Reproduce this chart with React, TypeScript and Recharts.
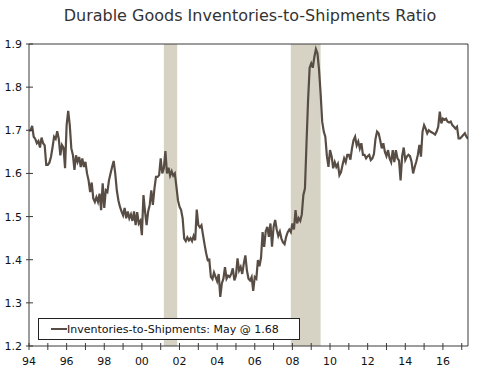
import { LineChart, Line, XAxis, YAxis, ReferenceArea, ReferenceLine, Legend } from 'recharts'

// monthly ratio, Jan 1994 .. May 2017
const ratio1994to1997 = [
  1.70, 1.70, 1.71, 1.685, 1.68, 1.67, 1.675, 1.66, 1.683, 1.67, 1.665, 1.62,
  1.62, 1.625, 1.638, 1.66, 1.685, 1.68, 1.698, 1.68, 1.642, 1.666, 1.66, 1.612,
  1.712, 1.745, 1.712, 1.658, 1.643, 1.608, 1.642, 1.627, 1.638, 1.615, 1.635, 1.615,
  1.627, 1.60, 1.584, 1.557, 1.579, 1.542, 1.534, 1.545, 1.534, 1.553, 1.515, 1.577,
]
const ratio1998to2001 = [
  1.52, 1.561, 1.557, 1.584, 1.60, 1.615, 1.629, 1.60, 1.561, 1.538, 1.523, 1.512,
  1.503, 1.52, 1.496, 1.512, 1.496, 1.505, 1.49, 1.512, 1.48, 1.51, 1.484, 1.49,
  1.457, 1.55, 1.512, 1.48, 1.512, 1.527, 1.561, 1.527, 1.565, 1.592, 1.592, 1.596,
  1.635, 1.60, 1.612, 1.652, 1.60, 1.613, 1.595, 1.605, 1.595, 1.60, 1.57, 1.538,
]
const ratio2002to2005 = [
  1.523, 1.515, 1.496, 1.449, 1.443, 1.452, 1.445, 1.45, 1.443, 1.455, 1.445, 1.516,
  1.48, 1.475, 1.48, 1.457, 1.435, 1.415, 1.399, 1.40, 1.36, 1.355, 1.37, 1.36,
  1.35, 1.367, 1.314, 1.345, 1.356, 1.383, 1.356, 1.363, 1.36, 1.367, 1.38, 1.352,
  1.363, 1.403, 1.375, 1.383, 1.367, 1.391, 1.41, 1.375, 1.356, 1.352, 1.36, 1.328,
]
const ratio2006to2009 = [
  1.36, 1.356, 1.399, 1.385, 1.405, 1.464, 1.43, 1.466, 1.476, 1.453, 1.484, 1.43,
  1.476, 1.492, 1.47, 1.455, 1.465, 1.449, 1.44, 1.436, 1.453, 1.464, 1.47, 1.464,
  1.484, 1.47, 1.515, 1.484, 1.496, 1.49, 1.505, 1.55, 1.565, 1.67, 1.77, 1.845,
  1.855, 1.845, 1.87, 1.888, 1.878, 1.84, 1.785, 1.72, 1.697, 1.685, 1.64, 1.615,
]
const ratio2010to2013 = [
  1.654, 1.64, 1.612, 1.626, 1.615, 1.622, 1.596, 1.603, 1.62, 1.635, 1.626, 1.643,
  1.643, 1.632, 1.658, 1.677, 1.685, 1.665, 1.674, 1.658, 1.67, 1.643, 1.643, 1.635,
  1.64, 1.643, 1.631, 1.635, 1.645, 1.68, 1.697, 1.693, 1.677, 1.658, 1.67, 1.65,
  1.64, 1.654, 1.635, 1.626, 1.654, 1.626, 1.654, 1.635, 1.63, 1.584, 1.64, 1.66,
]
const ratio2014to2017 = [
  1.631, 1.639, 1.643, 1.64, 1.627, 1.60, 1.615, 1.627, 1.643, 1.666, 1.639, 1.697,
  1.712, 1.704, 1.693, 1.70, 1.697, 1.695, 1.693, 1.69, 1.697, 1.708, 1.743, 1.716,
  1.727, 1.724, 1.727, 1.72, 1.718, 1.72, 1.712, 1.708, 1.704, 1.708, 1.681, 1.681,
  1.685, 1.689, 1.693, 1.685, 1.68,
]

const START_YEAR = 1994
const yTicks = [1.2, 1.3, 1.4, 1.5, 1.6, 1.7, 1.8, 1.9]
const yearTicks = [1994, 1995, 1996, 1997, 1998, 1999, 2000, 2001, 2002, 2003, 2004, 2005,
  2006, 2007, 2008, 2009, 2010, 2011, 2012, 2013, 2014, 2015, 2016, 2017]
// recessions: Mar-Nov 2001, Dec 2007-Jun 2009
const recessions = [
  { from: 2001 + 2 / 12, to: 2001 + 10.5 / 12 },
  { from: 2007 + 11 / 12, to: 2009 + 6 / 12 },
]

const series = [
  ...ratio1994to1997, ...ratio1998to2001, ...ratio2002to2005,
  ...ratio2006to2009, ...ratio2010to2013, ...ratio2014to2017,
]
const data = series.map((v, i) => ({ t: START_YEAR + i / 12, ratio: v }))
const lastT = data[data.length - 1].t

const FONT = '"DejaVu Sans", Verdana, sans-serif'
const AXIS = '#3a3a3a'
const LINE = '#584d44'
const SHADE = '#d6d3c5'
const LABEL = '#111'

const LeftTick = (p: any) => (
  <g>
    <line x1={p.x - 3} x2={p.x + 4} y1={p.y} y2={p.y} stroke={AXIS} />
    <text x={p.x - 7} y={p.y} dy={4} textAnchor="end" fontSize={11} fontFamily={FONT} fill={LABEL}>
      {p.payload.value.toFixed(1)}
    </text>
  </g>
)

const RightTick = (p: any) => (
  <g>
    <line x1={p.x - 4} x2={p.x + 3} y1={p.y} y2={p.y} stroke={AXIS} />
    <text x={p.x + 12} y={p.y} dy={4} textAnchor="start" fontSize={11} fontFamily={FONT} fill={LABEL}>
      {p.payload.value.toFixed(1)}
    </text>
  </g>
)

const BottomTick = (p: any) => {
  const yr = p.payload.value
  return (
    <g>
      <line x1={p.x} x2={p.x} y1={p.y - 3} y2={p.y + 4} stroke={AXIS} />
      {yr % 2 === 0 && (
        <text x={p.x} y={p.y + 19} textAnchor="middle" fontSize={11} fontFamily={FONT} fill={LABEL}>
          {String(yr % 100).padStart(2, '0')}
        </text>
      )}
    </g>
  )
}

const LegendBox = () => (
  <div style={{
    border: '1px solid #222', background: '#fff', height: 20, width: 260,
    display: 'flex', alignItems: 'center', fontFamily: FONT, fontSize: 11, color: '#111',
  }}>
    <span style={{ display: 'inline-block', width: 16, height: 2, background: LINE, marginLeft: 12 }} />
    <span>Inventories-to-Shipments: May @ 1.68</span>
  </div>
)

export default function App() {
  return (
    <div style={{ position: 'absolute', left: 0, top: 0, width: 500, height: 370, background: '#fff' }}>
      <div style={{
        position: 'absolute', left: 0, top: 6, width: 500, textAlign: 'center',
        fontFamily: FONT, fontSize: 16, color: '#333',
      }}>
        Durable Goods Inventories-to-Shipments Ratio
      </div>
      <LineChart width={500} height={370} data={data} margin={{ top: 44, right: 0, bottom: 0, left: 0 }}>
        {recessions.map((r) => (
          <ReferenceArea key={r.from} x1={r.from} x2={r.to} yAxisId="left" fill={SHADE} fillOpacity={1} stroke="none" />
        ))}
        <XAxis
          dataKey="t" type="number" domain={[START_YEAR, lastT]} ticks={yearTicks}
          height={24} tickSize={0} tickMargin={0} tickLine={false}
          axisLine={{ stroke: AXIS }} tick={BottomTick} interval={0} allowDataOverflow
        />
        <YAxis
          yAxisId="left" orientation="left" domain={[1.2, 1.9]} ticks={yTicks}
          width={29} tickSize={0} tickMargin={0} tickLine={false}
          axisLine={{ stroke: AXIS }} tick={LeftTick} interval={0}
        />
        <YAxis
          yAxisId="right" orientation="right" domain={[1.2, 1.9]} ticks={yTicks}
          width={32} tickSize={0} tickMargin={0} tickLine={false}
          axisLine={{ stroke: AXIS }} tick={RightTick} interval={0}
        />
        <ReferenceLine y={1.9} yAxisId="left" stroke={AXIS} />
        <Line
          yAxisId="left" type="linear" dataKey="ratio" stroke={LINE} strokeWidth={2.2}
          dot={false} isAnimationActive={false}
        />
        <Legend
          layout="vertical" align="center" verticalAlign="middle"
          wrapperStyle={{ left: 38, top: 318, width: 262 }}
          content={LegendBox}
        />
      </LineChart>
    </div>
  )
}
